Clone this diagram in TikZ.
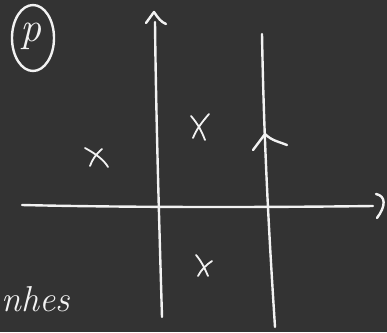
\documentclass[tikz,border=0pt]{standalone}
\usepackage{tikz}
\usetikzlibrary{calc}
\definecolor{boardbg}{HTML}{333333}
\definecolor{chalk}{HTML}{F2F2F2}

\begin{document}
\begin{tikzpicture}[
    x=1pt, y=-1pt,
    stroke/.style={chalk, line width=2.4pt, line cap=round, line join=round},
    thin stroke/.style={chalk, line width=1.8pt, line cap=round, line join=round},
]

% ============================================================
% BOARD
% ============================================================
\fill[boardbg] (0,0) rectangle (387,332);
\useasboundingbox (0,0) rectangle (387,332);

% ============================================================
% LABEL (p), CIRCLED
% ============================================================
\node[text=chalk, font=\fontsize{42}{42}\selectfont\itshape] (plabel) at (31,36) {p};
\draw[stroke] (plabel.center) ++(2,2) ellipse (21 and 33);

% ============================================================
% AXES
% ============================================================
% horizontal line with hooked end
\draw[stroke] (22,205) .. controls (150,208) and (300,207) .. (373,206);
\draw[stroke] (376,194) .. controls (386,196) and (386,206) .. (377,218);

% first vertical line, arrow at the top
\draw[stroke] (155,22) .. controls (156,120) and (160,250) .. (162,317);
\draw[stroke] (146,23) -- (154,12) .. controls (158,18) and (161,22) .. (166,24);

% second vertical line, arrow half way
\draw[stroke] (262,34) .. controls (264,150) and (270,250) .. (275,327);
\draw[stroke] (253,150) -- (265,134) .. controls (272,141) and (280,142) .. (287,145);

% ============================================================
% CROSSES
% ============================================================
\draw[thin stroke] (85,148) .. controls (96,154) and (104,160) .. (108,167);
\draw[thin stroke] (102,149) .. controls (96,154) and (92,160) .. (90,166);

\draw[thin stroke] (191,116) .. controls (198,124) and (202,132) .. (205,140);
\draw[thin stroke] (209,114) .. controls (202,122) and (196,130) .. (193,138);

\draw[thin stroke] (196,255) .. controls (202,262) and (205,269) .. (208,276);
\draw[thin stroke] (212,261) .. controls (206,265) and (201,270) .. (198,276);

% ============================================================
% TEXT AT THE BOTTOM
% ============================================================
\node[text=chalk, font=\fontsize{36}{36}\selectfont\itshape, anchor=base west, inner sep=0pt] (bottomtext) at (1,311) {nhes};

\end{tikzpicture}
\end{document}
